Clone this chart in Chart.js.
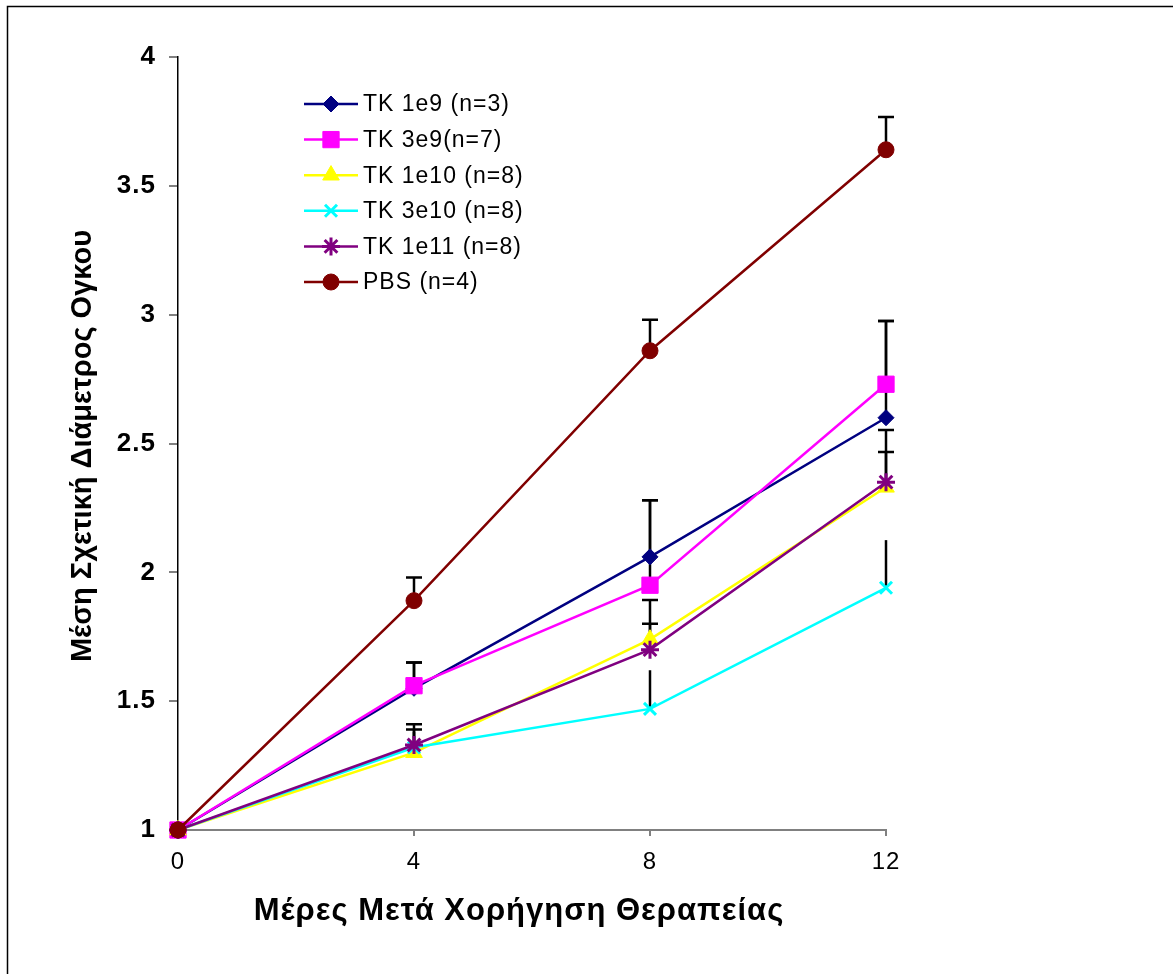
<!DOCTYPE html>
<html>
<head>
<meta charset="utf-8">
<script src="https://cdn.jsdelivr.net/npm/chart.js@4.4.1/dist/chart.umd.min.js"></script>
<style>
html,body{margin:0;padding:0;background:#fff;}
#wrap{position:relative;width:1173px;height:974px;}
</style>
</head>
<body>
<div id="wrap"><canvas id="c" width="1173" height="974"></canvas></div>
<script>
// ---- data ----
const days = [0, 4, 8, 12];
const seriesNames = ["TK 1e9 (n=3)", "TK 3e9(n=7)", "TK 1e10 (n=8)", "TK 3e10 (n=8)", "TK 1e11 (n=8)", "PBS (n=4)"];
const tk1e9  = [1, 1.55, 2.06, 2.60];
const tk3e9  = [1, 1.56, 1.95, 2.73];
const tk1e10 = [1, 1.30, 1.74, 2.33];
const tk3e10 = [1, 1.32, 1.47, 1.94];
const tk1e11 = [1, 1.33, 1.70, 2.35];
const pbs    = [1, 1.89, 2.86, 3.64];
// upper error bar tops (null = none)
const err1e9  = [null, 1.65, 2.28, 2.975];
const err3e9  = [null, 1.65, 2.28, 2.975];
const err1e10 = [null, 1.39, 1.80, 2.467];
const err3e10 = [null, 1.38, 1.62, 2.125];
const err1e11 = [null, 1.41, 1.893, 2.552];
const errPbs  = [null, 1.98, 2.98, 3.767];
const yTicks = [1, 1.5, 2, 2.5, 3, 3.5, 4];
const xTicks = [0, 4, 8, 12];
const xTitle = "Μέρες Μετά Χορήγηση Θεραπείας";
const yTitle = "Μέση Σχετική Διάμετρος Ογκου";

const values = [tk1e9, tk3e9, tk1e10, tk3e10, tk1e11, pbs];
const errors = [err1e9, err3e9, err1e10, err3e10, err1e11, errPbs];
const colors = ["#000080", "#FF00FF", "#FFFF00", "#00FFFF", "#800080", "#800000"];
const styles = ["rectRot", "rect", "triangle", "crossRot", "star", "circle"];
const radii  = [8, 11.5, 9.6, 8.5, 9, 8];
const capless = [false, false, false, true, false, false];

const datasets = values.map((v, i) => ({
  label: seriesNames[i],
  data: days.map((d, k) => ({x: d, y: v[k]})),
  borderColor: colors[i],
  backgroundColor: colors[i],
  pointBackgroundColor: colors[i],
  pointBorderColor: colors[i],
  pointStyle: styles[i],
  pointRadius: radii[i],
  pointBorderWidth: (styles[i] === 'crossRot' || styles[i] === 'star') ? 3 : 1,
  borderWidth: 2.5,
  tension: 0,
  fill: false,
  clip: false,
  order: values.length - i,
  errTop: errors[i],
  capless: capless[i]
}));

const spacing = {
  id: 'spacing',
  beforeDraw(chart) { try { chart.ctx.letterSpacing = '1px'; } catch (e) {} }
};

const errorBars = {
  id: 'errorBars',
  beforeDatasetsDraw(chart) {
    const ctx = chart.ctx, xs = chart.scales.x, ys = chart.scales.y;
    ctx.save();
    ctx.strokeStyle = '#000';
    ctx.lineWidth = 2.5;
    chart.data.datasets.forEach(ds => {
      ds.data.forEach((p, k) => {
        const t = ds.errTop[k];
        if (t == null) return;
        const px = xs.getPixelForValue(p.x);
        const py = ys.getPixelForValue(p.y);
        const pt = ys.getPixelForValue(t);
        ctx.beginPath();
        ctx.moveTo(px, py); ctx.lineTo(px, pt);
        if (!ds.capless) { ctx.moveTo(px - 8, pt); ctx.lineTo(px + 8, pt); }
        ctx.stroke();
      });
    });
    ctx.restore();
  }
};

const decor = {
  id: 'decor',
  afterDraw(chart) {
    const ctx = chart.ctx;
    ctx.save();
    // outer frame (top and left)
    ctx.strokeStyle = '#000';
    ctx.lineWidth = 1.5;
    ctx.beginPath();
    ctx.moveTo(7.5, 974); ctx.lineTo(7.5, 6.5); ctx.lineTo(1173, 6.5);
    ctx.stroke();
    // axis titles
    ctx.fillStyle = '#000';
    ctx.textAlign = 'center';
    ctx.textBaseline = 'middle';
    try { ctx.letterSpacing = '1px'; } catch (e) {}
    ctx.font = 'bold 31px "Liberation Sans", Arial, sans-serif';
    ctx.fillText(xTitle, 519, 911);
    ctx.save();
    ctx.translate(83, 446);
    ctx.rotate(-Math.PI / 2);
    try { ctx.letterSpacing = '0px'; } catch (e) {}
    ctx.font = 'bold 29px "Liberation Sans", Arial, sans-serif';
    ctx.fillText(yTitle, 0, 0);
    ctx.restore();
    // legend
    const lx0 = 304, lx1 = 358, mx = 331, tx = 363, ly0 = 104, step = 35.6;
    ctx.font = '23px "Liberation Sans", Arial, sans-serif';
    ctx.textAlign = 'left';
    try { ctx.letterSpacing = '1px'; } catch (e) {}
    chart.data.datasets.forEach((ds, i) => {
      const y = ly0 + i * step;
      ctx.strokeStyle = ds.borderColor;
      ctx.lineWidth = 2.5;
      ctx.beginPath(); ctx.moveTo(lx0, y); ctx.lineTo(lx1, y); ctx.stroke();
      ctx.fillStyle = ds.pointBackgroundColor;
      ctx.strokeStyle = ds.pointBorderColor;
      ctx.lineWidth = ds.pointBorderWidth;
      Chart.helpers.drawPoint(ctx, {pointStyle: ds.pointStyle, rotation: 0, radius: ds.pointRadius, borderWidth: ds.pointBorderWidth}, mx, y);
      ctx.fillStyle = '#000';
      ctx.fillText(ds.label, tx, y + 1);
    });
    ctx.restore();
  }
};

const chart = new Chart(document.getElementById('c'), {
  type: 'line',
  data: { datasets },
  options: {
    responsive: false,
    animation: false,
    devicePixelRatio: 1,
    layout: { padding: { left: 0, top: 57, right: 287, bottom: 0 } },
    plugins: { legend: { display: false }, tooltip: { enabled: false }, title: { display: false } },
    scales: {
      x: {
        type: 'linear', min: 0, max: 12,
        afterFit(s) { s.height = 144; },
        afterBuildTicks(s) { s.ticks = xTicks.map(v => ({value: v})); },
        ticks: { color: '#000', font: { size: 24, family: '"Liberation Sans", Arial, sans-serif' }, padding: 12, maxRotation: 0,
                 callback: v => String(v) },
        grid: { drawOnChartArea: false, drawTicks: true, tickLength: 6, color: '#808080', lineWidth: 2 },
        border: { display: true, color: '#808080', width: 2 }
      },
      y: {
        type: 'linear', min: 1, max: 4,
        afterFit(s) { s.width = 178; },
        afterBuildTicks(s) { s.ticks = yTicks.map(v => ({value: v})); },
        ticks: { color: '#000', font: { size: 26, weight: 'bold', family: '"Liberation Sans", Arial, sans-serif' }, padding: 13,
                 callback: v => String(v) },
        grid: { drawOnChartArea: false, drawTicks: true, tickLength: 9, color: '#808080', lineWidth: 2 },
        border: { display: true, color: '#000', width: 1.5 }
      }
    }
  },
  plugins: [spacing, errorBars, decor]
});
</script>
</body>
</html>
